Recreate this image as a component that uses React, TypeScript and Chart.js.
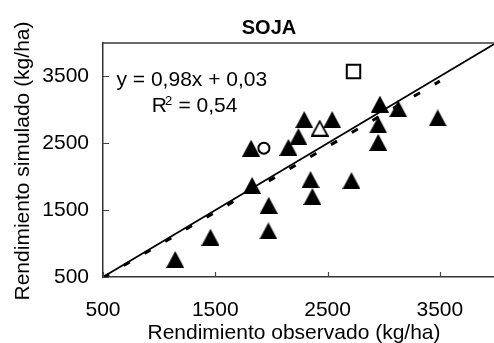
import React, { useEffect, useRef } from 'react';
import { Chart, registerables } from 'chart.js';

Chart.register(...registerables);

// ---- data ----
const filledX = [1143, 1457, 1828, 1819, 1976, 1973, 2151, 2240, 2292, 2348, 2365, 2541, 2713, 2966, 2951, 2951, 3129, 3481];
const filledY = [763, 1095, 1870, 2427, 1573, 1189, 2439, 2600, 2854, 1958, 1704, 2854, 1942, 3086, 2775, 2514, 3017, 2880];
const openTriX = [2430];
const openTriY = [2726];
const circleX = [1933];
const circleY = [2427];
const squareX = [2731];
const squareY = [3574];
const identityX = [500, 4000];
const identityY = [500, 4000];
const trendX = [500, 3500];
const trendY = [490.03, 3430.03];
const tickValues = [500, 1500, 2500, 3500];
const axisMin = 500;
const axisMax = 4000;

const TITLE = 'SOJA';
const X_TITLE = 'Rendimiento observado (kg/ha)';
const Y_TITLE = 'Rendimiento simulado (kg/ha)';
const EQUATION = 'y = 0,98x + 0,03';
const R2_VALUE = '= 0,54';

const FONT = "'Liberation Sans', Arial, Helvetica, sans-serif";

const zip = (xs: number[], ys: number[]) => xs.map((x, i) => ({ x, y: ys[i] }));

function makeTriangle(open: boolean): HTMLCanvasElement {
  const c = document.createElement('canvas');
  c.width = 18;
  c.height = 17;
  const g = c.getContext('2d')!;
  g.beginPath();
  if (open) {
    g.moveTo(9, 1.6);
    g.lineTo(16.8, 16);
    g.lineTo(1.2, 16);
  } else {
    g.moveTo(9, 0);
    g.lineTo(18, 17);
    g.lineTo(0, 17);
  }
  g.closePath();
  g.fillStyle = open ? '#ffffff' : '#000000';
  g.fill();
  if (open) {
    g.lineWidth = 1.8;
    g.strokeStyle = '#000000';
    g.lineJoin = 'miter';
    g.stroke();
  }
  return c;
}

const decorPlugin = {
  id: 'decor',
  afterDraw(chart: any) {
    const { ctx, chartArea: a, scales } = chart;
    ctx.save();
    // top frame line
    ctx.strokeStyle = '#3a3a3a';
    ctx.lineWidth = 1.5;
    ctx.beginPath();
    ctx.moveTo(a.left, a.top);
    ctx.lineTo(a.right, a.top);
    ctx.stroke();
    // inward tick marks
    ctx.lineWidth = 1.2;
    ctx.strokeStyle = '#444444';
    ctx.beginPath();
    tickValues.forEach((v) => {
      const px = Math.round(scales.x.getPixelForValue(v)) + 0.5;
      ctx.moveTo(px, a.bottom);
      ctx.lineTo(px, a.bottom - 5);
      const py = Math.round(scales.y.getPixelForValue(v)) + 0.5;
      ctx.moveTo(a.left, py);
      ctx.lineTo(a.left + 6, py);
    });
    ctx.stroke();

    ctx.fillStyle = '#000000';
    ctx.textBaseline = 'alphabetic';
    // chart title
    ctx.font = `bold 20px ${FONT}`;
    ctx.textAlign = 'center';
    ctx.fillText(TITLE, 269, 33.5);
    // x axis title
    ctx.font = `21px ${FONT}`;
    ctx.fillText(X_TITLE, 294, 338.5);
    // y axis title
    ctx.save();
    ctx.translate(28.5, 161);
    ctx.rotate(-Math.PI / 2);
    ctx.fillText(Y_TITLE, 0, 0);
    ctx.restore();
    // equation
    ctx.textAlign = 'left';
    ctx.font = `21px ${FONT}`;
    ctx.fillText(EQUATION, 116.5, 86);
    ctx.fillText('R', 151.8, 111.7);
    ctx.font = `13px ${FONT}`;
    ctx.fillText('2', 165, 105);
    ctx.font = `21px ${FONT}`;
    ctx.fillText(R2_VALUE, 178.5, 111.7);
    ctx.restore();
  },
};

export default function App() {
  const ref = useRef<HTMLCanvasElement | null>(null);

  useEffect(() => {
    if (!ref.current) return;
    const filledTri = makeTriangle(false);
    const openTri = makeTriangle(true);
    const tickFont = { family: FONT, size: 21 };

    const chart = new Chart(ref.current, {
      type: 'scatter',
      data: {
        datasets: [
          {
            label: 'open circle',
            data: zip(circleX, circleY),
            pointStyle: 'circle',
            pointRadius: 5.5,
            pointBorderWidth: 2,
            pointBorderColor: '#000',
            pointBackgroundColor: '#fff',
          },
          {
            label: 'open square',
            data: zip(squareX, squareY),
            pointStyle: 'rect',
            pointRadius: 9.5,
            pointBorderWidth: 2,
            pointBorderColor: '#000',
            pointBackgroundColor: '#fff',
          },
          {
            label: 'open triangle',
            data: zip(openTriX, openTriY),
            pointStyle: openTri as any,
            pointRadius: 9,
          },
          {
            label: 'filled triangles',
            data: zip(filledX, filledY),
            pointStyle: filledTri as any,
            pointRadius: 9,
          },
          {
            label: '1:1',
            data: zip(identityX, identityY),
            showLine: true,
            borderColor: '#000',
            borderWidth: 1.8,
            pointRadius: 0,
          },
          {
            label: 'trend',
            data: zip(trendX, trendY),
            showLine: true,
            borderColor: '#000',
            borderWidth: 3,
            borderDash: [7, 17],
            pointRadius: 0,
          },
        ],
      },
      options: {
        responsive: false,
        animation: false,
        events: [],
        layout: { autoPadding: false, padding: { top: 43, right: 2, left: 0, bottom: 0 } },
        plugins: {
          legend: { display: false },
          tooltip: { enabled: false },
          title: { display: false },
        },
        scales: {
          x: {
            type: 'linear',
            min: axisMin,
            max: axisMax,
            afterBuildTicks: (s: any) => {
              s.ticks = tickValues.map((value) => ({ value }));
            },
            afterFit: (s: any) => {
              s.height = 66;
              s.paddingLeft = 0;
              s.paddingRight = 0;
            },
            grid: { display: false, drawTicks: false },
            border: { display: true, color: '#333', width: 1.5 },
            ticks: {
              font: tickFont,
              color: '#000',
              padding: 21,
              maxRotation: 0,
              autoSkip: false,
              callback: (v: any) => String(v),
            },
          },
          y: {
            type: 'linear',
            min: axisMin,
            max: axisMax,
            afterBuildTicks: (s: any) => {
              s.ticks = tickValues.map((value) => ({ value }));
            },
            afterFit: (s: any) => {
              s.width = 103;
              s.paddingTop = 0;
              s.paddingBottom = 0;
            },
            grid: { display: false, drawTicks: false },
            border: { display: true, color: '#333', width: 1.5 },
            ticks: {
              font: tickFont,
              color: '#000',
              padding: 14,
              autoSkip: false,
              callback: (v: any) => String(v),
            },
          },
        },
      },
      plugins: [decorPlugin],
    } as any);

    return () => chart.destroy();
  }, []);

  return (
    <div
      style={{
        position: 'fixed',
        left: 0,
        top: 0,
        width: 494,
        height: 343,
        overflow: 'hidden',
        background: '#fff',
      }}
    >
      <canvas ref={ref} width={498} height={343} style={{ display: 'block', width: 498, height: 343 }} />
    </div>
  );
}
